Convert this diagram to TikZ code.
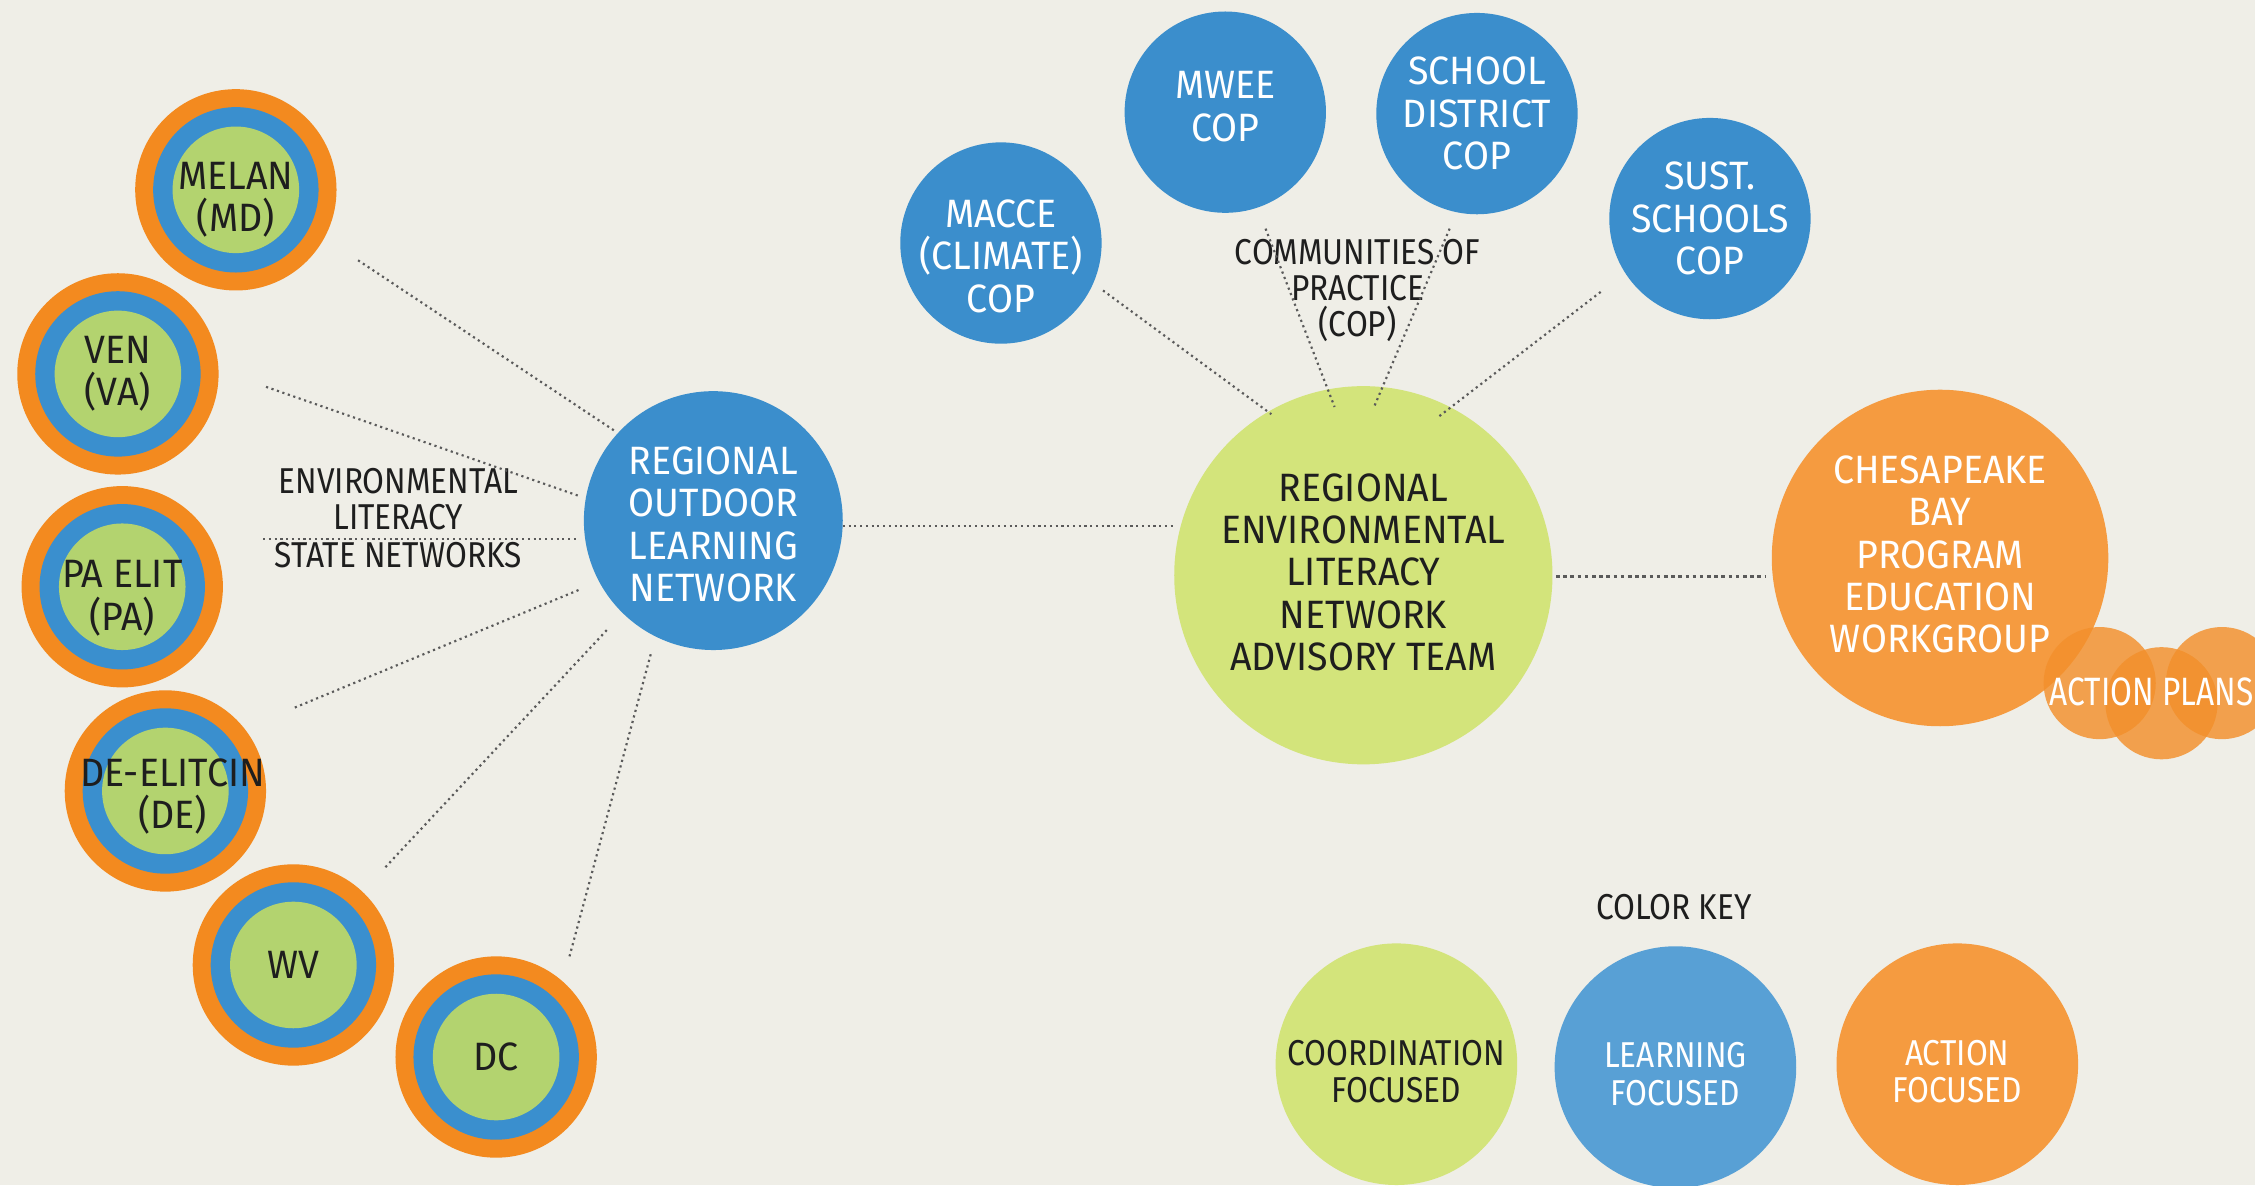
\documentclass[tikz,border=0pt]{standalone}
\usepackage{fontspec}
\setmainfont{Fira Sans}[FakeStretch=0.95]
\newfontfamily\narrowf{Fira Sans}[FakeStretch=0.88]
\newfontfamily\apf{Fira Sans}[FakeStretch=0.8]
\definecolor{bg}{HTML}{EFEEE7}
\definecolor{ringor}{HTML}{F38A1F}
\definecolor{ringbl}{HTML}{3A8FCE}
\definecolor{ringgr}{HTML}{B3D36F}
\definecolor{copbl}{HTML}{3B8ECC}
\definecolor{advgr}{HTML}{D3E47B}
\definecolor{chesor}{HTML}{F59B40}
\definecolor{apor}{HTML}{F3902C}
\definecolor{keybl}{HTML}{58A0D5}
\definecolor{txtdark}{HTML}{1E1E1E}
\definecolor{linegray}{HTML}{5A5A5A}
\newcommand\fmain{\fontsize{11}{11.8}\selectfont}
\newcommand\fsmall{\narrowf\fontsize{10}{10}\selectfont}
\newcommand\fkey{\narrowf\fontsize{10}{10.4}\selectfont}
\begin{document}
\begin{tikzpicture}[x=0.4pt,y=-0.4pt,
  ring/.style={circle, minimum size=56pt, inner sep=0pt, fill=ringor,
    path picture={\fill[ringbl] (path picture bounding box.center) circle (57.5);
                  \fill[ringgr] (path picture bounding box.center) circle (44);}},
  cop/.style={circle, minimum size=56pt, inner sep=0pt, fill=copbl},
  bigblue/.style={circle, minimum size=72pt, inner sep=0pt, fill=copbl},
  advstyle/.style={circle, minimum size=105.2pt, inner sep=0pt, fill=advgr},
  chesstyle/.style={circle, minimum size=93.6pt, inner sep=0pt, fill=chesor},
  apcirc/.style={circle, minimum size=31.2pt, inner sep=0pt, fill=apor, fill opacity=0.82},
  keycirc/.style={circle, minimum size=67.2pt, inner sep=0pt},
  tdark/.style={align=center, font=\fmain, text=txtdark, inner sep=0pt},
  twhite/.style={align=center, font=\fmain, text=white, inner sep=0pt},
  lab/.style={align=center, font=\fsmall, text=txtdark, inner sep=0pt},
  conn/.style={densely dotted, line width=0.6pt, draw=linegray}
]
\clip (0,0) rectangle (1568,824);
\useasboundingbox (0,0) rectangle (1568,824);
\fill[bg] (0,0) rectangle (1568,824);

% state networks
\node[ring] (melan) at (164,132) {};
\node[ring] (ven) at (82,260) {};
\node[ring] (pa) at (85,408) {};
\node[ring] (de) at (115,550) {};
\node[ring] (wv) at (204,671) {};
\node[ring] (dc) at (345,735) {};
\node[tdark] (melan-t) at ([yshift=-2.8pt]melan.center) {MELAN\\(MD)};
\node[tdark] (ven-t) at (ven.center) {VEN\\(VA)};
\node[tdark] (pa-t) at ([yshift=-3.2pt]pa.center) {PA ELIT\\(PA)};
\node[tdark] (de-t) at ([xshift=2pt,yshift=-1.6pt]de.center) {DE-ELITCIN\\(DE)};
\node[tdark] (wv-t) at (wv.center) {WV};
\node[tdark] (dc-t) at (dc.center) {DC};

\node[bigblue] (roln) at (496,362) {};
\node[twhite] (roln-t) at ([yshift=-1pt]roln.center) {REGIONAL\\OUTDOOR\\LEARNING\\NETWORK};

% communities of practice
\node[cop] (macce) at (696,169) {};
\node[cop] (mwee) at (852,78) {};
\node[cop] (school) at (1027,79) {};
\node[cop] (sust) at (1189,152) {};
\node[twhite] (macce-t) at ([yshift=-3.6pt]macce.center) {MACCE\\(CLIMATE)\\COP};
\node[twhite] (mwee-t) at ([yshift=1.6pt]mwee.center) {MWEE\\COP};
\node[twhite] (school-t) at (school.center) {SCHOOL\\DISTRICT\\COP};
\node[twhite] (sust-t) at (sust.center) {SUST.\\SCHOOLS\\COP};

\node[advstyle] (adv) at (948,400) {};
\node[tdark] (adv-t) at ([yshift=0.8pt]adv.center) {REGIONAL\\ENVIRONMENTAL\\LITERACY\\NETWORK\\ADVISORY TEAM};

\node[chesstyle] (ches) at (1349,388) {};
\node[twhite] (ches-t) at ([yshift=1pt]ches.center) {CHESAPEAKE\\BAY\\PROGRAM\\EDUCATION\\WORKGROUP};

% action plans
\node[apcirc] (ap1) at (1460,475) {};
\node[apcirc] (ap2) at (1503,489) {};
\node[apcirc] (ap3) at (1545,475) {};
\node[font=\apf\fontsize{11}{11}\selectfont, text=white, inner sep=0pt] (aptext) at (1496,481) {ACTION PLANS};

% labels
\node[lab] (envlab) at (277,347) {ENVIRONMENTAL\\LITERACY};
\node[lab] (statelab) at (277,386) {STATE NETWORKS};
\node[lab] (coplab) at (944,202) {COMMUNITIES OF\\PRACTICE\\(COP)};

% color key
\node[lab] (keylab) at (1164,631) {COLOR KEY};
\node[keycirc, fill=advgr] (kcoord) at (971,740) {};
\node[keycirc, fill=keybl] (klearn) at (1165,742) {};
\node[keycirc, fill=chesor] (kaction) at (1361,740) {};
\node[tdark, font=\fkey] (kcoord-t) at ([yshift=-2pt]kcoord.center) {COORDINATION\\FOCUSED};
\node[twhite, font=\fkey] (klearn-t) at ([yshift=-2pt]klearn.center) {LEARNING\\FOCUSED};
\node[twhite, font=\fkey] (kaction-t) at ([yshift=-2pt]kaction.center) {ACTION\\FOCUSED};

% connectors
\draw[conn] ([shift={(85,49)}]melan.center) -- ([shift={(-68,-62)}]roln.center);
\draw[conn] ([shift={(103,9)}]ven.center) -- ([shift={(-93,-17)}]roln.center);
\draw[conn] ([shift={(98,-33)}]pa.center) -- ([shift={(-93,13)}]roln.center);
\draw[conn] ([shift={(90,-58)}]de.center) -- ([shift={(-93,48)}]roln.center);
\draw[conn] ([shift={(64,-68)}]wv.center) -- ([shift={(-73,75)}]roln.center);
\draw[conn] ([shift={(51,-70)}]dc.center) -- ([shift={(-43,91)}]roln.center);
\draw[conn] ([shift={(90,4)}]roln.center) -- ([shift={(-130,-34)}]adv.center);
\draw[conn] ([shift={(71,33)}]macce.center) -- ([shift={(-64,-112)}]adv.center);
\draw[conn] ([shift={(28,81)}]mwee.center) -- ([shift={(-20,-117)}]adv.center);
\draw[conn] ([shift={(-19,80)}]school.center) -- ([shift={(7,-116)}]adv.center);
\draw[conn] ([shift={(-76,51)}]sust.center) -- ([shift={(52,-110)}]adv.center);
\draw[conn, line width=1pt] ([shift={(134,1)}]adv.center) -- ([shift={(-121,13)}]ches.center);
\end{tikzpicture}
\end{document}
